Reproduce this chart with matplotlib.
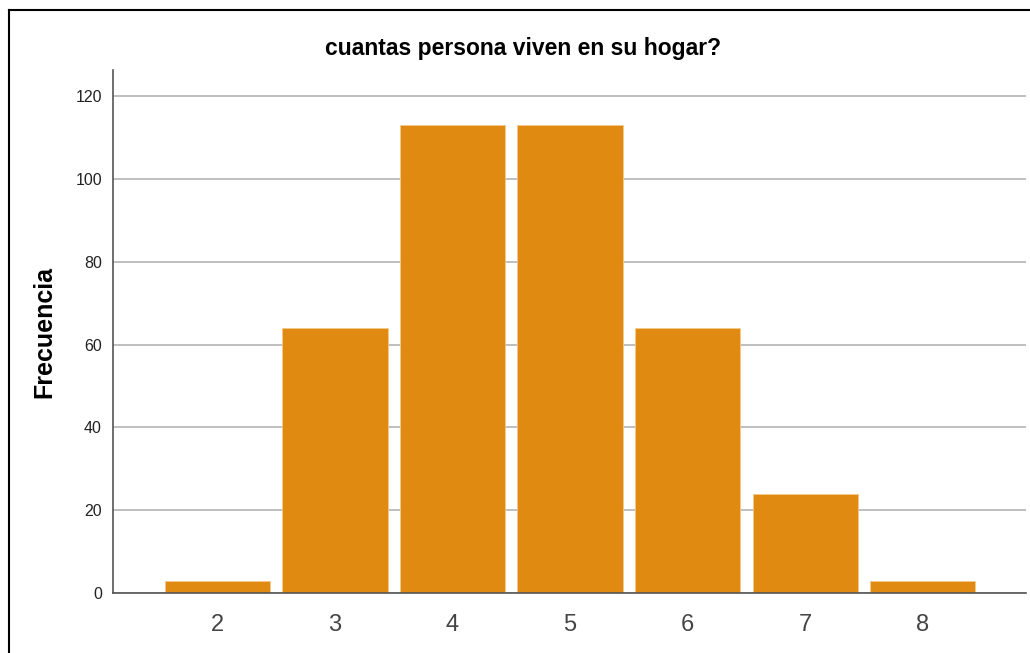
import matplotlib
matplotlib.use("Agg")
import matplotlib.pyplot as plt
from matplotlib.lines import Line2D

personas = ['2', '3', '4', '5', '6', '7', '8']
frecuencia = [3, 64, 113, 113, 64, 24, 3]
y_ticks = [0, 20, 40, 60, 80, 100, 120]

W, H = 1030, 653
plt.rcParams['font.family'] = ['Liberation Sans', 'DejaVu Sans']

fig = plt.figure(figsize=(W/100, H/100), dpi=100)
ax = fig.add_axes([113/W, 1-593/H, (1026-113)/W, (593-70)/H])

ax.set_axisbelow(True)
ax.yaxis.grid(True, color='#b4b4b4', lw=1.2)
pos = list(range(len(personas)))
ax.bar(pos, frecuencia, width=0.894, color='#e08a11', edgecolor='#f3c98a', lw=0.6)

ax.set_xlim(-0.889, 6.88)
ax.set_ylim(0, 126.3)
ax.set_yticks(y_ticks)
ax.set_xticks(pos)
ax.set_xticklabels(personas, fontsize=17, color='#444444')
ax.tick_params(axis='y', length=0, labelsize=11.5, pad=8, colors='#222222')
ax.tick_params(axis='x', length=0, pad=15)

for s in ['top', 'right']:
    ax.spines[s].set_visible(False)
for s in ['left', 'bottom']:
    ax.spines[s].set_color('#555555')
    ax.spines[s].set_linewidth(1.2)

ax.set_ylabel('Frecuencia', fontsize=18, fontweight='bold')
ax.yaxis.set_label_coords(-57/(1026-113), 0.5)
fig.text(523/W, 1-48/H, 'cuantas persona viven en su hogar?', ha='center', va='center',
         fontsize=16.5, fontweight='bold')

# outer frame (only left and top visible)
fig.add_artist(Line2D([9/W, 9/W], [0, 1-10/H], transform=fig.transFigure, color='black', lw=1.5))
fig.add_artist(Line2D([9/W, 1], [1-10/H, 1-10/H], transform=fig.transFigure, color='black', lw=1.5))

fig.savefig('out.png', dpi=100)
